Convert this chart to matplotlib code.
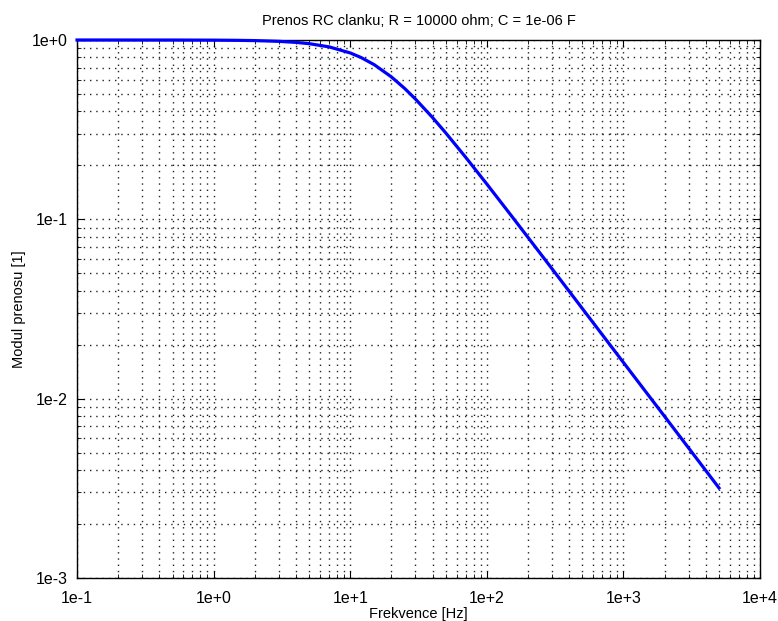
import matplotlib
matplotlib.use("Agg")
import matplotlib.pyplot as plt
from matplotlib.ticker import LogLocator, FixedLocator, NullFormatter

# frequency [Hz] and transfer magnitude
freq = [0.1, 0.5, 1, 1.5, 2, 3, 4, 5, 7, 10, 12, 15, 20, 25, 30, 40, 50,
        70, 100, 150, 200, 300, 500, 1000, 2000, 5000]
modul = [1.0, 0.9995, 0.998, 0.9956, 0.9922, 0.9828, 0.9698, 0.954, 0.9154,
         0.8468, 0.7985, 0.7277, 0.6227, 0.537, 0.4686, 0.3697, 0.3033,
         0.2217, 0.1572, 0.1055, 0.0793, 0.053, 0.0318, 0.0159, 0.00796,
         0.00318]

xticks = [1e-1, 1e0, 1e1, 1e2, 1e3, 1e4]
xlabels = ["1e-1", "1e+0", "1e+1", "1e+2", "1e+3", "1e+4"]
yticks = [1e-3, 1e-2, 1e-1, 1e0]
ylabels = ["1e-3", "1e-2", "1e-1", "1e+0"]

plt.rcParams['font.family'] = ['Liberation Sans', 'DejaVu Sans']

fig = plt.figure(figsize=(7.78, 6.21), dpi=100)
ax = fig.add_axes([0.099, 0.0692, 0.878, 0.8664])
ax.plot(freq, modul, color='#0000ff', lw=2.3, zorder=3, clip_on=False)
ax.set_xscale('log')
ax.set_yscale('log')
ax.set_xlim(1e-1, 1e4)
ax.set_ylim(1e-3, 1e0)

ax.xaxis.set_major_locator(FixedLocator(xticks))
ax.set_xticklabels(xlabels)
ax.yaxis.set_major_locator(FixedLocator(yticks))
ax.set_yticklabels(ylabels)
ax.xaxis.set_minor_locator(LogLocator(base=10, subs=range(2, 10), numticks=20))
ax.yaxis.set_minor_locator(LogLocator(base=10, subs=range(2, 10), numticks=20))
ax.xaxis.set_minor_formatter(NullFormatter())
ax.yaxis.set_minor_formatter(NullFormatter())

ax.grid(True, which='both', color='#222222', linestyle=(0, (1, 3.5)), lw=1.0)
ax.tick_params(which='both', direction='in', top=True, right=True,
               labelsize=11.5, color='black')
ax.tick_params(which='major', length=5)
ax.tick_params(axis='x', which='major', pad=9)
ax.tick_params(axis='y', which='major', pad=7)
ax.tick_params(which='minor', length=3)
for s in ax.spines.values():
    s.set_linewidth(1.0)

ax.set_title("Prenos RC clanku; R = 10000 ohm; C = 1e-06 F", fontsize=10.5, pad=11)
ax.set_xlabel("Frekvence [Hz]", fontsize=10.5, labelpad=1)
ax.set_ylabel("Modul prenosu [1]", fontsize=10.5, labelpad=4)

fig.savefig("out.png", dpi=100)
